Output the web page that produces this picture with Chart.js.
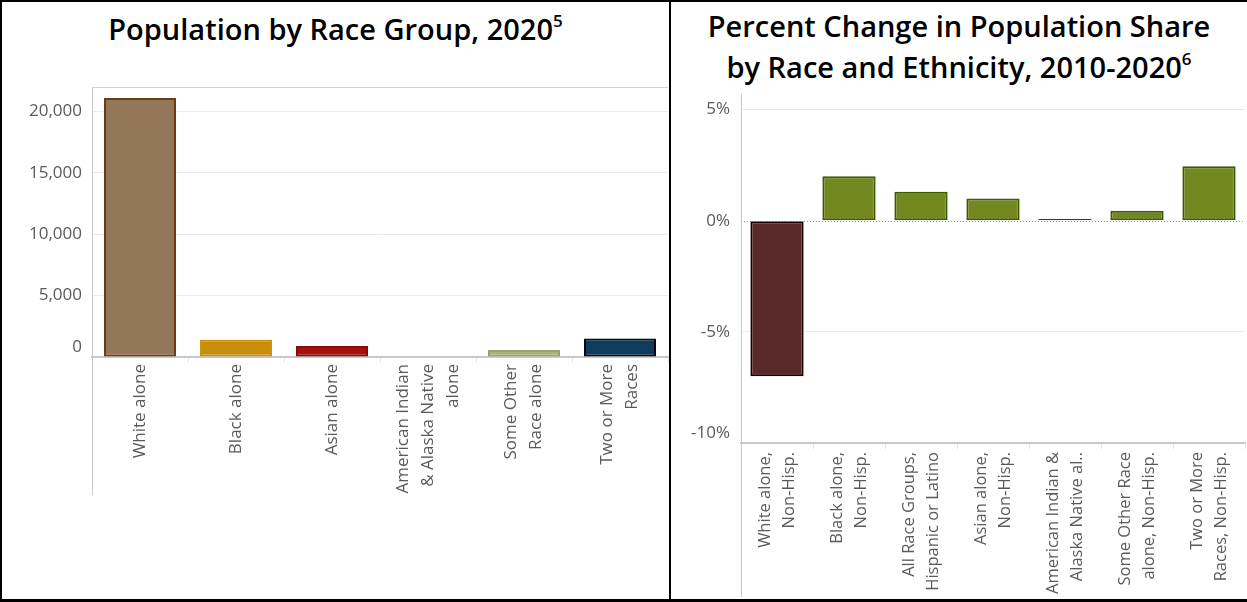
<!DOCTYPE html>
<html>
<head>
<meta charset="utf-8">
<script src="https://cdn.jsdelivr.net/npm/chart.js@4.4.1/dist/chart.umd.min.js"></script>
<style>
  html, body { margin: 0; padding: 0; background: #fff; }
  .frame { position: relative; width: 1247px; height: 602px; overflow: hidden; background: #fff; }
  .edge { position: absolute; background: #000; }
  .title {
    position: absolute; text-align: center; color: #000;
    font-family: "Open Sans", sans-serif; font-size: 29px; font-weight: 600; line-height: 41px;
  }
  .title sup { font-size: 17px; line-height: 0; vertical-align: 13px; }
  canvas { position: absolute; }
</style>
</head>
<body>
<div class="frame">
  <div class="edge" style="left:0;top:0;width:1247px;height:2px"></div>
  <div class="edge" style="left:0;top:0;width:2px;height:602px"></div>
  <div class="edge" style="left:0;top:599px;width:1247px;height:3px"></div>
  <div class="edge" style="left:669px;top:0;width:2px;height:602px"></div>

  <div class="title" style="left:2px;width:667px;top:8px">Population by Race Group, 2020<sup>5</sup></div>
  <div class="title" style="left:671px;width:576px;top:5px">Percent Change in Population Share<br>by Race and Ethnicity, 2010-2020<sup>6</sup></div>

  <canvas id="race-chart" width="667" height="538" style="left:2px;top:60px"></canvas>
  <canvas id="share-chart" width="576" height="514" style="left:671px;top:84px"></canvas>
</div>

<script>
// Population by race group, 2020
const raceLabels = [
  ["White alone"],
  ["Black alone"],
  ["Asian alone"],
  ["American Indian", "& Alaska Native", "alone"],
  ["Some Other", "Race alone"],
  ["Two or More", "Races"],
]
const raceCounts = [21100, 1400, 900, 40, 580, 1500]
const raceFills = ["#927759", "#c98d0e", "#a3120c", "#8e6f9e", "#a8b27c", "#0f3b5c"]
const raceBorders = ["#6e3b12", "#d38f08", "#8c0b05", "#6d4f80", "#99a468", "#010814"]
const countTicks = [0, 5000, 10000, 15000, 20000]

// Percent change in population share by race and ethnicity, 2010-2020
const shareLabels = [
  ["White alone,", "Non-Hisp."],
  ["Black alone,", "Non-Hisp."],
  ["All Race Groups,", "Hispanic or Latino"],
  ["Asian alone,", "Non-Hisp."],
  ["American Indian &", "Alaska Native al.."],
  ["Some Other Race", "alone, Non-Hisp."],
  ["Two or More", "Races, Non-Hisp."],
]
const shareChange = [-7.0, 2.0, 1.3, 1.0, 0.08, 0.45, 2.45]
const shareFills = ["#5c292b", "#748820", "#748820", "#748820", "#555555", "#748820", "#748820"]
const shareBorders = ["#1a0000", "#3f5a04", "#3f5a04", "#3f5a04", "#3a3a3a", "#3f5a04", "#3f5a04"]
const shareTicks = [-10, -5, 0, 5]

const tickGray = "#5a5a5a"
const axisGray = "#c8c8c8"

// Draws the rotated, block-centred category names plus the axis pieces
// Chart.js has no option for (axis line through the label band, dotted zero line)
const axisExtras = {
  id: "axisExtras",
  afterDraw(chart, args, opts) {
    const { ctx, chartArea, scales } = chart
    const x = scales.x
    const y = scales.y
    ctx.save()

    ctx.strokeStyle = axisGray
    ctx.lineWidth = 1
    ctx.beginPath()
    ctx.moveTo(chartArea.left + 0.5, chartArea.bottom)
    ctx.lineTo(chartArea.left + 0.5, x.bottom)
    ctx.stroke()

    if (opts.topLine) {
      ctx.strokeStyle = "#d2d2d2"
      ctx.beginPath()
      ctx.moveTo(chartArea.left, chartArea.top + 0.5)
      ctx.lineTo(chartArea.right, chartArea.top + 0.5)
      ctx.stroke()
    }

    if (opts.zeroLine) {
      const zy = Math.round(y.getPixelForValue(0)) + 0.5
      ctx.strokeStyle = "#9a9a9a"
      ctx.setLineDash([1, 2])
      ctx.beginPath()
      ctx.moveTo(chartArea.left, zy)
      ctx.lineTo(chartArea.right, zy)
      ctx.stroke()
      ctx.setLineDash([])
    }

    ctx.fillStyle = tickGray
    ctx.font = opts.font
    ctx.textAlign = "right"
    ctx.textBaseline = "middle"
    opts.labels.forEach((lines, i) => {
      const px = x.getPixelForValue(i)
      ctx.save()
      ctx.translate(px, chartArea.bottom + opts.gap)
      ctx.rotate(-Math.PI / 2)
      lines.forEach((line, j) => {
        ctx.fillText(line, 0, (j - (lines.length - 1) / 2) * opts.lineHeight)
      })
      ctx.restore()
    })
    ctx.restore()
  },
}

function barChart(canvasId, cfg) {
  const ctx = document.getElementById(canvasId).getContext("2d")
  return new Chart(ctx, {
    type: "bar",
    data: {
      labels: cfg.labels.map((l) => l.join(" ")),
      datasets: [
        {
          data: cfg.values,
          backgroundColor: cfg.fills,
          borderColor: cfg.borders,
          borderWidth: 2,
          borderSkipped: false,
          barPercentage: cfg.barPercentage,
          categoryPercentage: 1,
        },
      ],
    },
    options: {
      responsive: false,
      animation: false,
      layout: { padding: cfg.padding },
      plugins: {
        legend: { display: false },
        tooltip: { enabled: false },
        axisExtras: {
          labels: cfg.labels,
          font: cfg.labelFont,
          lineHeight: cfg.labelLineHeight,
          gap: cfg.labelGap,
          topLine: cfg.topLine,
          zeroLine: cfg.zeroLine,
        },
      },
      scales: {
        x: {
          ticks: { display: false },
          grid: {
            offset: true,
            drawOnChartArea: false,
            drawTicks: true,
            tickLength: 6,
            tickColor: "#e4e4e4",
          },
          border: { color: axisGray, width: cfg.baseWidth },
          afterFit: (scale) => {
            scale.height = cfg.xHeight
          },
        },
        y: {
          min: cfg.min,
          max: cfg.max,
          afterBuildTicks: (scale) => {
            scale.ticks = cfg.ticks.map((v) => ({ value: v }))
          },
          ticks: {
            color: tickGray,
            padding: cfg.yPadding,
            font: { family: "Open Sans", size: 17 },
            callback: cfg.format,
          },
          grid: {
            drawTicks: false,
            color: (c) => (cfg.hideGrid.includes(c.tick && c.tick.value) ? "transparent" : "#ebebeb"),
          },
          border: { color: axisGray, width: 1 },
          afterFit: (scale) => {
            scale.width = cfg.yWidth
            // plot edges are set by layout padding alone
            scale.paddingTop = 0
            scale.paddingBottom = 0
          },
        },
      },
    },
    plugins: [axisExtras],
  })
}

barChart("race-chart", {
  labels: raceLabels,
  values: raceCounts,
  fills: raceFills,
  borders: raceBorders,
  ticks: countTicks,
  min: 0,
  max: 22000,
  barPercentage: 0.75,
  padding: { left: 0, right: 1, top: 27, bottom: 103 },
  xHeight: 138,
  yWidth: 90,
  yPadding: 10,
  baseWidth: 2,
  hideGrid: [0],
  topLine: true,
  zeroLine: false,
  labelFont: "17px 'Open Sans'",
  labelLineHeight: 25,
  labelGap: 7,
  format: (v) => (v === 0 ? ["0", ""] : v.toLocaleString("en-US")),
})

barChart("share-chart", {
  labels: shareLabels,
  values: shareChange,
  fills: shareFills,
  borders: shareBorders,
  ticks: shareTicks,
  min: -10,
  max: 5.7,
  barPercentage: 0.74,
  padding: { left: 0, right: 2, top: 10, bottom: 1 },
  xHeight: 154,
  yWidth: 70,
  yPadding: 11,
  baseWidth: 2,
  hideGrid: [0, -10],
  topLine: false,
  zeroLine: true,
  labelFont: "16.5px 'Open Sans'",
  labelLineHeight: 24,
  labelGap: 9,
  format: (v) => (v === -10 ? ["-10%", ""] : v + "%"),
})
</script>
</body>
</html>
